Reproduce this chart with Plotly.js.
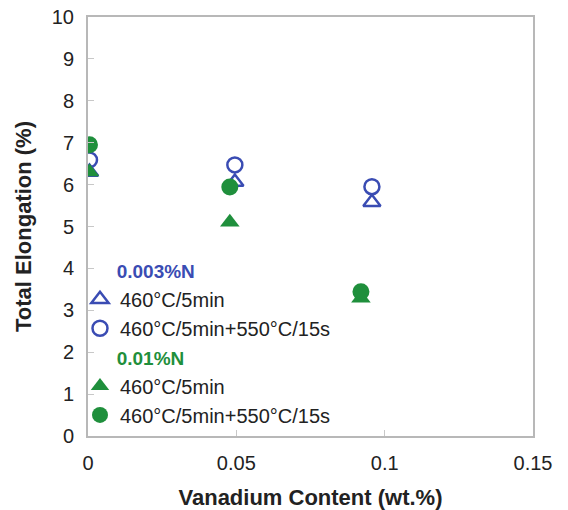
<!DOCTYPE html>
<html>
<head>
<meta charset="utf-8">
<script src="https://cdn.plot.ly/plotly-3.0.1.min.js"></script>
<style>html,body{margin:0;padding:0;background:#fff;}#chart{width:568px;height:510px;}</style>
</head>
<body>
<div id="chart"></div>
<script>
// Vanadium content (wt.%)
const vLowN = [0.0005, 0.0495, 0.0957];
const vHighN = [0.0005, 0.0478, 0.0920];
// Total elongation (%)
const lowN_460 = [6.30, 6.06, 5.58];
const lowN_460_550 = [6.59, 6.47, 5.95];
const highN_460 = [6.30, 5.10, 3.29];
const highN_460_550 = [6.95, 5.94, 3.44];

const groupLow = "0.003%N";
const groupHigh = "0.01%N";
const name1 = "460°C/5min";
const name2 = "460°C/5min+550°C/15s";

const xTicks = [0, 0.05, 0.1, 0.15];
const xTickText = ["0", "0.05", "0.1", "0.15"];
const yTicks = [0,1,2,3,4,5,6,7,8,9,10];

const blue = "#3a4cb3";
const green = "#1f8f3c";
const indent = "&nbsp;&nbsp;&nbsp;&nbsp;&nbsp;&nbsp;";

const traces = [
  {x: vLowN, y: lowN_460, name: name1, legendgroup: "low",
   legendgrouptitle: {text: indent + "<b>" + groupLow + "</b>", font: {color: blue, size: 19}},
   mode: "markers", type: "scatter",
   marker: {symbol: "triangle-up-open", size: 15, color: blue, line: {width: 2.5, color: blue}}},
  {x: vLowN, y: lowN_460_550, name: name2, legendgroup: "low",
   mode: "markers", type: "scatter",
   marker: {symbol: "circle-open", size: 15, color: blue, line: {width: 2.5, color: blue}}},
  {x: vHighN, y: highN_460, name: name1, legendgroup: "high",
   legendgrouptitle: {text: indent + "<b>" + groupHigh + "</b>", font: {color: green, size: 19}},
   mode: "markers", type: "scatter",
   marker: {symbol: "triangle-up", size: 17, color: green}},
  {x: vHighN, y: highN_460_550, name: name2, legendgroup: "high",
   mode: "markers", type: "scatter",
   marker: {symbol: "circle", size: 17, color: green}}
];

const layout = {
  width: 568, height: 510,
  margin: {l: 88, r: 35, t: 17, b: 74},
  paper_bgcolor: "#fff", plot_bgcolor: "#fff",
  font: {family: "Liberation Sans, Arial, sans-serif", color: "#222", size: 20},
  showlegend: true,
  legend: {x: -0.018, y: 0.439, xanchor: "left", yanchor: "top",
           bgcolor: "rgba(0,0,0,0)", font: {size: 20, color: "#222"},
           tracegroupgap: 1, traceorder: "grouped"},
  xaxis: {range: [0, 0.15], tickvals: xTicks, ticktext: xTickText,
          showgrid: false, zeroline: false, showline: true, linecolor: "#b8b8b8", linewidth: 2,
          mirror: true, ticks: "inside", ticklen: 6, tickcolor: "#c8c8c8", tickwidth: 1,
          ticklabelstandoff: 8,
          tickfont: {size: 20, color: "#222"},
          title: {text: "<b>Vanadium Content (wt.%)</b>", font: {size: 22, color: "#222"}, standoff: 17}},
  yaxis: {range: [0, 10], tickvals: yTicks,
          showgrid: false, zeroline: false, showline: true, linecolor: "#b8b8b8", linewidth: 2,
          mirror: true, ticks: "inside", ticklen: 6, tickcolor: "#c8c8c8", tickwidth: 1,
          ticklabelstandoff: 8,
          tickfont: {size: 20, color: "#222"},
          title: {text: "<b>Total Elongation (%)</b>", font: {size: 22, color: "#222"}, standoff: 14}}
};

Plotly.newPlot("chart", traces, layout, {displayModeBar: false, staticPlot: true});
</script>
</body>
</html>
